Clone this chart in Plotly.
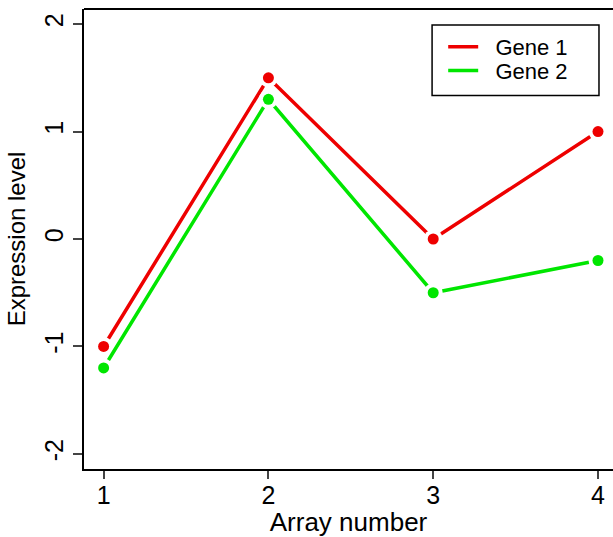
import plotly.graph_objects as go

arrays = [1, 2, 3, 4]
gene1 = [-1.0, 1.5, 0.0, 1.0]
gene2 = [-1.2, 1.3, -0.5, -0.2]
series_names = ["Gene 1", "Gene 2"]
series_colors = ["#EE0000", "#00E600"]
x_ticks = [1, 2, 3, 4]
y_ticks = [-2, -1, 0, 1, 2]

FONT = "Liberation Sans, Arial, sans-serif"
NBSP = "\u00a0"

fig = go.Figure()
legend_ids = ["legend", "legend2"]
for name, vals, col, lid in zip(series_names, [gene1, gene2], series_colors, legend_ids):
    fig.add_trace(go.Scatter(x=arrays, y=vals, mode="lines", name=NBSP * 2 + name,
                             line=dict(color=col, width=3.5), showlegend=True,
                             legend=lid))
    fig.add_trace(go.Scatter(x=arrays, y=vals, mode="markers", showlegend=False,
                             hoverinfo="skip",
                             marker=dict(color="white", size=19, line=dict(width=0))))
    fig.add_trace(go.Scatter(x=arrays, y=vals, mode="markers", showlegend=False,
                             marker=dict(color=col, size=11, line=dict(width=0))))

leg_common = dict(xanchor="left", yanchor="middle", borderwidth=0,
                  bgcolor="rgba(0,0,0,0)", font=dict(size=22), itemwidth=30)

fig.update_layout(
    width=613, height=537,
    margin=dict(l=84, r=0, t=9, b=66),
    paper_bgcolor="white", plot_bgcolor="white",
    font=dict(family=FONT, size=24, color="black"),
    legend=dict(x=0.679, y=0.9177, **leg_common),
    legend2=dict(x=0.679, y=0.8658, **leg_common),
    shapes=[
        dict(type="line", xref="paper", yref="paper", x0=0, x1=1, y0=1, y1=1,
             line=dict(color="black", width=2.2)),
        dict(type="rect", xref="paper", yref="paper", x0=0.658, x1=0.9735,
             y0=0.8117, y1=0.9654, fillcolor="white",
             line=dict(color="black", width=1.5)),
    ],
)
fig.update_xaxes(range=[0.881, 4.091], tickvals=x_ticks, ticktext=[str(v) for v in x_ticks],
                 showline=True, linecolor="black", linewidth=2.2,
                 ticks="outside", ticklen=8, tickwidth=1.5, tickcolor="#444",
                 showgrid=False, zeroline=False, ticklabelstandoff=-5,
                 tickfont=dict(size=25),
                 title=dict(text="Array number", font=dict(size=26), standoff=10))
fig.update_yaxes(range=[-2.14, 2.14], tickvals=y_ticks, ticktext=[str(v) for v in y_ticks],
                 showline=True, linecolor="black", linewidth=2.2,
                 ticks="outside", ticklen=9, tickwidth=1.5, tickcolor="#444",
                 showgrid=False, zeroline=False, tickangle=-90,
                 tickfont=dict(size=25),
                 title=dict(text="Expression level", font=dict(size=24), standoff=8))

fig.write_html("out.html")
